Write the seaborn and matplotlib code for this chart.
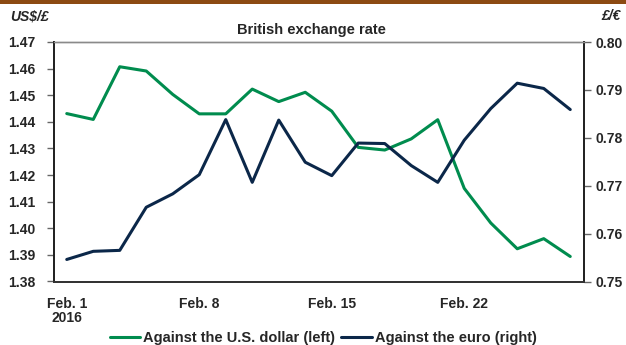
import matplotlib
matplotlib.use("Agg")
import matplotlib.pyplot as plt
import seaborn as sns
import pandas as pd
from matplotlib.patches import Rectangle

# trading days, Feb 1 - Feb 26 2016
days = ["Feb 1", "Feb 2", "Feb 3", "Feb 4", "Feb 5",
        "Feb 8", "Feb 9", "Feb 10", "Feb 11", "Feb 12",
        "Feb 15", "Feb 16", "Feb 17", "Feb 18", "Feb 19",
        "Feb 22", "Feb 23", "Feb 24", "Feb 25", "Feb 26"]
usd = [1.4431, 1.4409, 1.4607, 1.4591, 1.4503,
       1.4430, 1.4430, 1.4523, 1.4476, 1.4511,
       1.4440, 1.4304, 1.4294, 1.4336, 1.4408,
       1.4150, 1.4020, 1.3923, 1.3961, 1.3894]
eur = [0.7546, 0.7563, 0.7565, 0.7655, 0.7683,
       0.7723, 0.7838, 0.7707, 0.7837, 0.7749,
       0.7721, 0.7789, 0.7788, 0.7742, 0.7707,
       0.7795, 0.7861, 0.7914, 0.7903, 0.7859]
tick_pos = [0, 5, 10, 15]
tick_labels = ["Feb. 1\n2016", "Feb. 8", "Feb. 15", "Feb. 22"]

df = pd.DataFrame({"i": range(len(days)), "day": days, "usd": usd, "eur": eur})

sns.set_style("white")
plt.rcParams['font.family'] = ['Liberation Sans', 'DejaVu Sans']
plt.rcParams['font.weight'] = 'bold'

green = "#008C4E"
navy = "#0B2749"
fs = 10
fs2 = 10.5

fig = plt.figure(figsize=(6.26, 3.45), dpi=100)
ax = fig.add_axes([53.5/626, 1-281.5/345, 530/626, 239.5/345])
ax2 = ax.twinx()

sns.lineplot(data=df, x="i", y="usd", ax=ax, color=green, lw=2.2, label="Against the U.S. dollar (left)", legend=False)
sns.lineplot(data=df, x="i", y="eur", ax=ax2, color=navy, lw=2.2, label="Against the euro (right)", legend=False)

ax.set_xlim(-0.5, 19.5)
ax.set_ylim(1.38, 1.47)
ax.set_yticks([1.38 + 0.01*k for k in range(10)])
ax.set_yticklabels([f"{1.38 + 0.01*k:.2f}" for k in range(10)], fontsize=fs, fontweight='bold')
ax2.set_ylim(0.75, 0.80)
ax2.set_yticks([0.75 + 0.01*k for k in range(6)])
ax2.set_yticklabels([f"{0.75 + 0.01*k:.2f}" for k in range(6)], fontsize=fs, fontweight='bold')
ax.set_xticks(tick_pos)
ax.set_xticklabels(tick_labels, fontsize=fs, fontweight='bold', linespacing=1.0)
ax.set_xlabel("")
ax.set_ylabel("")
ax2.set_ylabel("")

ax.tick_params(axis='y', direction='out', length=5, width=1, color='#666666', pad=8)
ax.tick_params(axis='x', length=0, pad=11)
ax2.tick_params(axis='y', direction='out', length=5, width=1, color='#666666', pad=4)

for a in (ax, ax2):
    for s in a.spines.values():
        s.set_visible(True)
    a.spines['top'].set_color('#8a8a8a')
    a.spines['top'].set_linewidth(1.0)
    a.spines['left'].set_color('#222222')
    a.spines['bottom'].set_color('#333333')
    a.spines['right'].set_color('#222222')
    for s in ('left', 'bottom', 'right'):
        a.spines[s].set_linewidth(1.3)

fig.patches.append(Rectangle((0, 1-3.5/345), 1, 3.5/345, transform=fig.transFigure,
                             facecolor="#8C4A12", edgecolor='none'))
fig.text(311/626, 1-30/345, "British exchange rate", ha='center', va='center', fontsize=fs2, fontweight='bold')
fig.text(10/626, 1-16/345, "US$/£", ha='left', va='center', fontsize=fs, fontweight='bold', style='italic')
fig.text(621/626, 1-16/345, "£/€", ha='right', va='center', fontsize=fs, fontweight='bold', style='italic')

h1, l1 = ax.get_legend_handles_labels()
h2, l2 = ax2.get_legend_handles_labels()
fig.legend(h1 + h2, l1 + l2, loc='center', bbox_to_anchor=(323/626, 1-338/345), ncol=2,
           frameon=False, handlelength=2.1, handletextpad=0.2, columnspacing=0.4,
           prop={'weight': 'bold', 'size': fs2})

fig.savefig("out.png", dpi=100)
